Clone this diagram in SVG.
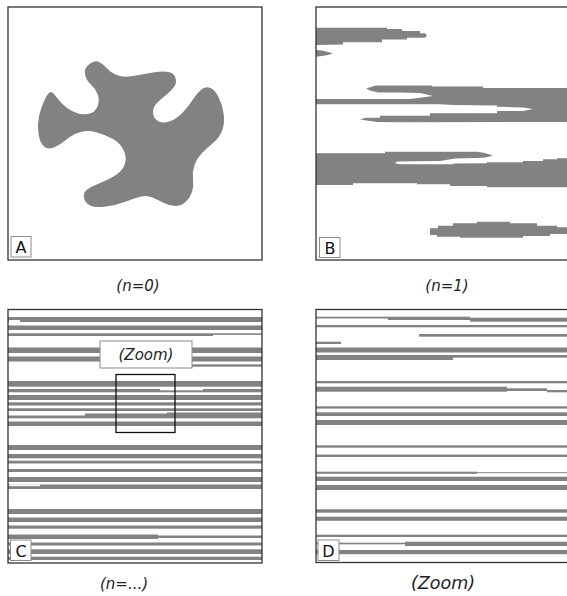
<svg xmlns="http://www.w3.org/2000/svg" width="567" height="596" viewBox="0 0 567 596">
  <style>
    .fill { fill: #828282; }
    .frame { fill: none; stroke: #333; stroke-width: 1.3; }
    .tag { fill: #fff; stroke: #8c8c8c; stroke-width: 1; }
    .tagtext { font-family: "DejaVu Sans", "Liberation Sans", sans-serif; font-size: 16px; fill: #111; text-anchor: middle; }
    .cap { font-family: "DejaVu Sans", "Liberation Sans", sans-serif; font-style: italic; font-size: 15px; fill: #222; text-anchor: middle; }
    .gap { fill: #fff; }
  </style>
  <rect width="567" height="596" fill="#fff"/>

  <!-- Panel A: initial blob -->
  <g id="panel-a">
    <path class="fill" d="M 89.5 64 Q 95 60 99 62 Q 103 64 106.5 68 Q 110 72 116.5 75 Q 123 78 133 76 Q 143 74 153 72.5 Q 163 71 168.5 72 Q 174 73 175.5 78 Q 177 83 174 87 Q 171 91 166 95 Q 161 99 157 103 Q 153 107 153 112 Q 153 117 156.5 120 Q 160 123 165 122.5 Q 170 122 175 119 Q 180 116 185 110 Q 190 104 194 98 Q 198 92 202 89 Q 206 86 210.5 88 Q 215 90 218.5 97 Q 222 104 223.5 113 Q 225 122 222.5 129.5 Q 220 137 213.5 142.5 Q 207 148 202 153 Q 197 158 194.5 165 Q 192 172 193 179 Q 194 186 192 192 Q 190 198 185.5 202 Q 181 206 175.5 206 Q 170 206 164 203 Q 158 200 152.5 197.5 Q 147 195 141 196.5 Q 135 198 126 201.5 Q 117 205 106 206.5 Q 95 208 90 205.5 Q 85 203 84 198 Q 83 193 86.5 190 Q 90 187 100 183 Q 110 179 116.5 174.5 Q 123 170 125 163.5 Q 127 157 123.5 150 Q 120 143 113 139 Q 106 135 97 132.5 Q 88 130 80.5 132 Q 73 134 66.5 139.5 Q 60 145 54 147.5 Q 48 150 44 146.5 Q 40 143 38.5 134 Q 37 125 39 116 Q 41 107 45.5 98 Q 50 89 53.5 93.5 Q 57 98 61.5 103 Q 66 108 73 111.5 Q 80 115 87.5 114 Q 95 113 97.5 106.5 Q 100 100 97.5 94 Q 95 88 90.5 84 Q 86 80 85 74 Q 84 68 89.5 64 Z"/>
    <rect class="frame" x="8" y="7" width="254" height="253"/>
    <rect class="tag" x="11" y="236.5" width="20" height="20.5"/>
    <text class="tagtext" x="21" y="253">A</text>
    <text class="cap" x="138" y="291">(n=0)</text>
  </g>

  <!-- Panel B: first stretching step -->
  <g id="panel-b">
    <polygon class="fill" points="316,27.7 387,27.7 387,29 402,29 402,31 420,31 420,33.3 425,33.3 427,35.7 425,37.7 407,37.7 407,39.5 382,39.5 382,42.3 343,42.3 343,44.5 316,45"/>
    <polygon class="fill" points="316,50 322,50.5 328,52 333,53.3 328,55 322,56 316,56.7"/>
    <polygon class="fill" points="366,88.5 376,85.5 432,85.5 432,86.5 483,86.5 483,88 567,88 567,122 543,122 400,122.3 378,122 370,121 360,119.5 366,117.7 380,117.7 380,115.7 430,115.7 430,113.3 497,113.3 497,111 523,111 533,109 523,107.5 497,106.7 497,105.5 453,105 440,104.3 316,104.3 316,99 410,99 433,96 420,93 400,92.5 378,92.5 370,90.5"/>
    <polygon class="fill" points="316,153.3 385,153.3 385,151.7 477,151.7 485,153 493,155.7 485,157.5 477,158 455,158.5 440,161 397,161.5 395,163.3 400,164.3 453,164.3 453,163.5 487,163.3 487,162.3 523,162.3 523,161 543,161 543,159.3 557,159.3 557,158.3 567,158.3 567,187.3 487,187.3 487,186 450,186 450,184.3 417,184.3 417,183.3 353,183.3 353,185 316,185"/>
    <polygon class="fill" points="430,228.3 438,228.3 438,225.7 453,225.7 453,223.3 477,223.3 477,221.7 510,221.7 510,223.3 537,223.3 537,225.7 557,225.7 557,227.3 567,227.3 567,234 550,234 550,236 523,236 523,237.7 460,237.7 460,236.7 437,236.7 437,235 430,235"/>
    <rect class="frame" x="316" y="7" width="300" height="253"/>
    <rect class="tag" x="319.5" y="237.5" width="20.5" height="20"/>
    <text class="tagtext" x="330" y="254">B</text>
    <text class="cap" x="447" y="291">(n=1)</text>
  </g>

  <!-- Panel C: many steps, thin layers -->
  <g id="panel-c">
    <g class="fill">
      <rect x="8" y="317" width="254" height="5"/>
      <rect x="8" y="325.5" width="254" height="4.5"/>
      <rect x="8" y="333.3" width="205" height="2.7"/>
      <rect x="213" y="333.3" width="49" height="1.6"/>
      <rect x="8" y="347.5" width="254" height="5.5"/>
      <rect x="8" y="356.5" width="254" height="5"/>
      <rect x="192" y="364.3" width="70" height="2.4"/>
      <rect x="8" y="381" width="254" height="5.7"/>
      <rect x="8" y="389" width="152" height="3.3"/>
      <rect x="160" y="390.3" width="43" height="2"/>
      <rect x="203" y="389" width="59" height="3.3"/>
      <rect x="8" y="395" width="254" height="5"/>
      <rect x="8" y="402.3" width="254" height="3.2"/>
      <rect x="8" y="408.3" width="254" height="2.7"/>
      <rect x="8" y="415.5" width="77" height="2.8"/>
      <rect x="85" y="413.5" width="82" height="4.8"/>
      <rect x="167" y="412.5" width="95" height="5.8"/>
      <rect x="8" y="421.5" width="254" height="4.5"/>
      <rect x="8" y="445" width="254" height="5"/>
      <rect x="8" y="454" width="254" height="4.3"/>
      <rect x="8" y="460.7" width="254" height="2.8"/>
      <rect x="8" y="469" width="254" height="3"/>
      <rect x="8" y="477" width="254" height="5"/>
      <rect x="8" y="484.5" width="254" height="4.5"/>
      <rect x="8" y="509" width="254" height="5"/>
      <rect x="8" y="517.5" width="254" height="4.5"/>
      <rect x="8" y="525.5" width="254" height="3.2"/>
      <rect x="8" y="534.5" width="150" height="4.5"/>
      <rect x="158" y="535.5" width="104" height="2.5"/>
      <rect x="8" y="542.5" width="254" height="3"/>
      <rect x="8" y="549.3" width="254" height="4.7"/>
      <rect x="8" y="556.7" width="254" height="3.3"/>
    </g>
    <rect class="gap" x="9" y="320" width="11" height="2"/>
    <rect class="gap" x="9" y="484.5" width="31" height="1.6"/>
    <rect class="frame" x="8" y="309.5" width="254" height="253.5"/>
    <rect class="tag" x="100" y="341" width="92" height="27"/>
    <text class="cap" x="146" y="360">(Zoom)</text>
    <rect x="116" y="374.5" width="59" height="58" fill="none" stroke="#111" stroke-width="1.3"/>
    <rect class="tag" x="10.5" y="540" width="20.5" height="20.5"/>
    <text class="tagtext" x="21" y="557">C</text>
    <text class="cap" x="124" y="589">(n=...)</text>
  </g>

  <!-- Panel D: enlarged window of panel C -->
  <g id="panel-d">
    <g class="fill">
      <rect x="316" y="316.7" width="72" height="1.8"/>
      <rect x="388" y="316.7" width="82" height="3.3"/>
      <rect x="470" y="317.7" width="97" height="4"/>
      <rect x="316" y="325" width="251" height="2.3"/>
      <rect x="419" y="334" width="148" height="2.7"/>
      <rect x="316" y="341.7" width="25" height="2.3"/>
      <rect x="316" y="347.5" width="251" height="5"/>
      <rect x="316" y="355" width="137" height="5"/>
      <rect x="453" y="355" width="114" height="2.7"/>
      <rect x="316" y="381" width="251" height="2.3"/>
      <rect x="316" y="386.7" width="191" height="5"/>
      <rect x="507" y="388.3" width="40" height="2.7"/>
      <rect x="547" y="390" width="20" height="2.3"/>
      <rect x="316" y="406.3" width="251" height="2.3"/>
      <rect x="316" y="412.3" width="251" height="3.7"/>
      <rect x="316" y="420" width="251" height="5"/>
      <rect x="316" y="445.3" width="251" height="2.4"/>
      <rect x="316" y="454.6" width="251" height="2.4"/>
      <rect x="316" y="471.7" width="161" height="2.1"/>
      <rect x="477" y="472.2" width="90" height="1"/>
      <rect x="316" y="476.7" width="251" height="4.3"/>
      <rect x="316" y="485" width="251" height="5"/>
      <rect x="316" y="509.3" width="251" height="3.4"/>
      <rect x="316" y="516.7" width="251" height="4.1"/>
      <rect x="316" y="534.7" width="251" height="2.3"/>
      <rect x="316" y="542.7" width="89" height="1.6"/>
      <rect x="405" y="541.7" width="162" height="4.3"/>
      <rect x="316" y="550" width="251" height="4.2"/>
    </g>
    <rect class="frame" x="316" y="309.5" width="300" height="253"/>
    <rect class="tag" x="318" y="540" width="21" height="20.5"/>
    <text class="tagtext" x="328.5" y="557">D</text>
    <text class="cap" x="443" y="589" style="font-size:17.5px">(Zoom)</text>
  </g>
</svg>
